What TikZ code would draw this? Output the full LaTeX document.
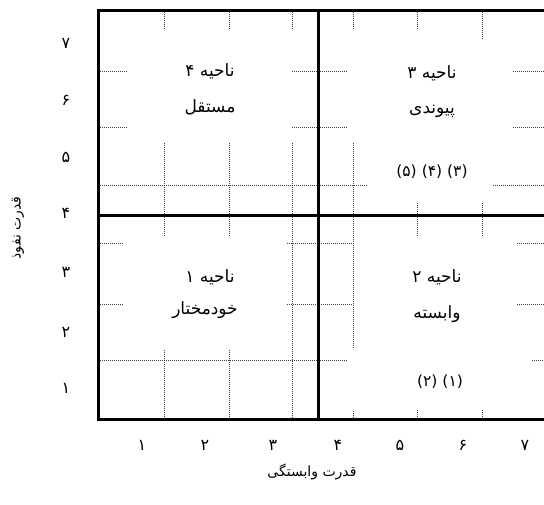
\documentclass[tikz,border=0pt]{standalone}
\usepackage{fontspec}
\newfontfamily\fa[Script=Arabic]{DejaVu Sans}
\TeXXeTstate=1
\begin{document}
\begin{tikzpicture}[x=1pt,y=-1pt,
  frame/.style={line width=3pt,line cap=rect},
  gridl/.style={line width=0.8pt,black!75,dash pattern=on 1pt off 1pt},
  lbl/.style={inner sep=0pt,font=\fa\fontsize{17}{20}\selectfont},
  lst/.style={inner sep=0pt,font=\fa\fontsize{15.5}{18}\selectfont},
  tick/.style={inner sep=0pt,font=\fa\fontsize{16}{19}\selectfont},
  ttl/.style={inner sep=0pt,font=\fa\fontsize{14}{17}\selectfont}]
\useasboundingbox (0,0) rectangle (544,504);
\clip (0,0) rectangle (544,504);
% dotted grid: vertical
\foreach \x in {164,229}{
  \draw[gridl] (\x,10) -- (\x,30);
  \draw[gridl] (\x,143) -- (\x,237);
  \draw[gridl] (\x,350) -- (\x,419);
}
\draw[gridl] (292,10) -- (292,30);
\draw[gridl] (292,143) -- (292,419);
\draw[gridl] (353,10) -- (353,30);
\draw[gridl] (353,143) -- (353,348);
\draw[gridl] (353,411) -- (353,419);
\draw[gridl] (417,10) -- (417,30);
\draw[gridl] (417,203) -- (417,237);
\draw[gridl] (417,410) -- (417,419);
\draw[gridl] (482,10) -- (482,40);
\draw[gridl] (482,203) -- (482,237);
\draw[gridl] (482,410) -- (482,419);
% dotted grid: horizontal
\foreach \y in {71,127}{
  \draw[gridl] (100,\y) -- (128,\y);
  \draw[gridl] (292,\y) -- (348,\y);
  \draw[gridl] (513,\y) -- (544,\y);
}
\draw[gridl] (100,185) -- (367,185);
\draw[gridl] (493,185) -- (544,185);
\foreach \y in {243,304}{
  \draw[gridl] (100,\y) -- (124,\y);
  \draw[gridl] (287,\y) -- (353,\y);
  \draw[gridl] (517,\y) -- (544,\y);
}
\draw[gridl] (100,360) -- (348,360);
\draw[gridl] (532,360) -- (544,360);
% thick frame and quadrant lines
\draw[frame] (98.5,10) -- (546,10);
\draw[frame] (98.5,10) -- (98.5,419.5);
\draw[frame] (98.5,419.5) -- (546,419.5);
\draw[frame] (318,10) -- (318,419.5);
\draw[frame] (98.5,215) -- (546,215);
% region labels
\node[lbl] (r4a) at (210,71) {\beginR ناحیه ۴\endR};
\node[lbl] (r4b) at (210,107) {\beginR مستقل\endR};
\node[lbl] (r3a) at (432,73) {\beginR ناحیه ۳\endR};
\node[lbl] (r3b) at (432,111) {\beginR پیوندی\endR};
\node[lst] (r3c) at (432,172) {\beginR (۳)\hspace{5pt}(۴)\hspace{5pt}(۵)\endR};
\node[lbl] (r1a) at (210,277) {\beginR ناحیه ۱\endR};
\node[lbl] (r1b) at (205,310) {\beginR خودمختار\endR};
\node[lbl] (r2a) at (437,277) {\beginR ناحیه ۲\endR};
\node[lbl] (r2b) at (437,314) {\beginR وابسته\endR};
\node[lst] (r2c) at (440,382) {\beginR (۱)\hspace{5pt}(۲)\endR};
% y ticks
\node[tick] (y7) at (66,43) {۷};
\node[tick] (y6) at (66,100) {۶};
\node[tick] (y5) at (66,157) {۵};
\node[tick] (y4) at (66,213) {۴};
\node[tick] (y3) at (66,272) {۳};
\node[tick] (y2) at (66,332) {۲};
\node[tick] (y1) at (66,388) {۱};
% x ticks
\node[tick] (x1) at (142,445) {۱};
\node[tick] (x2) at (205,445) {۲};
\node[tick] (x3) at (273,445) {۳};
\node[tick] (x4) at (338,445) {۴};
\node[tick] (x5) at (400,445) {۵};
\node[tick] (x6) at (463,445) {۶};
\node[tick] (x7) at (525,445) {۷};
% axis titles
\node[ttl] (xt) at (312,472) {\beginR قدرت وابستگی\endR};
\node[ttl,rotate=90] (yt) at (18,228) {\beginR قدرت نفوذ\endR};
\end{tikzpicture}
\end{document}
